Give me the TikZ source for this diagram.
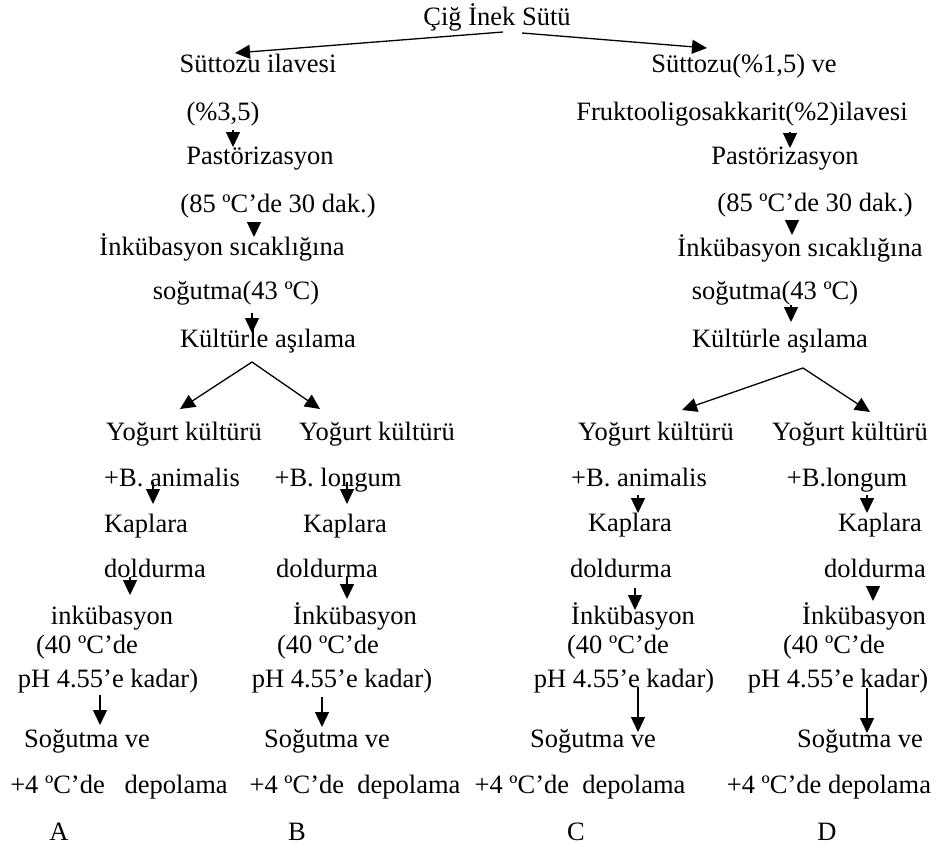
\documentclass[tikz,border=0pt]{standalone}
\usepackage{fontspec}
\setmainfont{Liberation Serif}
\usetikzlibrary{arrows.meta}
\tikzset{
  x=1pt, y=-1pt,
  lbl/.style={inner sep=0pt, anchor=base, font=\fontsize{26.5}{30}\selectfont},
  arr/.style={line width=1.3pt, -{Triangle[width=14pt,length=15pt]}}
}
\begin{document}
\begin{tikzpicture}
\useasboundingbox[fill=white] (0,0) rectangle (937,849);
% top
\node[lbl] (top) at (497,25) {Çiğ İnek Sütü};
% left branch
\node[lbl] (L1) at (258,72) {Süttozu ilavesi};
\node[lbl] (L2) at (223,120) {(\%3,5)};
\node[lbl] (L3) at (260,164) {Pastörizasyon};
\node[lbl] (L4) at (278,212) {(85 ºC’de 30 dak.)};
\node[lbl] (L5) at (222,255) {İnkübasyon sıcaklığına};
\node[lbl] (L6) at (236,299) {soğutma(43 ºC)};
\node[lbl] (L7) at (268,347) {Kültürle aşılama};
% A
\node[lbl] (A1) at (184,440) {Yoğurt kültürü};
\node[lbl] (A2) at (172,486) {+B. animalis};
\node[lbl] (A3) at (146,532) {Kaplara};
\node[lbl] (A4) at (155,577) {doldurma};
\node[lbl] (A5) at (112,624) {inkübasyon};
\node[lbl] (A6) at (87,653) {(40 ºC’de};
\node[lbl] (A7) at (108,687) {pH 4.55’e kadar)};
\node[lbl] (A8) at (87,747) {Soğutma ve};
\node[lbl] (A9) at (119,793) {+4 ºC’de \ \ depolama};
\node[lbl] (A10) at (59,840) {A};
% B
\node[lbl] (B1) at (377,440) {Yoğurt kültürü};
\node[lbl] (B2) at (338,486) {+B. longum};
\node[lbl] (B3) at (345,532) {Kaplara};
\node[lbl] (B4) at (327,577) {doldurma};
\node[lbl] (B5) at (355,624) {İnkübasyon};
\node[lbl] (B6) at (328,653) {(40 ºC’de};
\node[lbl] (B7) at (342,687) {pH 4.55’e kadar)};
\node[lbl] (B8) at (327,747) {Soğutma ve};
\node[lbl] (B9) at (355,793) {+4 ºC’de \ depolama};
\node[lbl] (B10) at (297,840) {B};
% right branch
\node[lbl] (R1) at (744,72) {Süttozu(\%1,5) ve};
\node[lbl] (R2) at (742,120) {Fruktooligosakkarit(\%2)ilavesi};
\node[lbl] (R3) at (785,164) {Pastörizasyon};
\node[lbl] (R4) at (815,211) {(85 ºC’de 30 dak.)};
\node[lbl] (R5) at (800,256) {İnkübasyon sıcaklığına};
\node[lbl] (R6) at (775,299) {soğutma(43 ºC)};
\node[lbl] (R7) at (780,347) {Kültürle aşılama};
% C
\node[lbl] (C1) at (656,440) {Yoğurt kültürü};
\node[lbl] (C2) at (639,486) {+B. animalis};
\node[lbl] (C3) at (630,531) {Kaplara};
\node[lbl] (C4) at (621,577) {doldurma};
\node[lbl] (C5) at (633,624) {İnkübasyon};
\node[lbl] (C6) at (618,653) {(40 ºC’de};
\node[lbl] (C7) at (624,687) {pH 4.55’e kadar)};
\node[lbl] (C8) at (593,747) {Soğutma ve};
\node[lbl] (C9) at (580,793) {+4 ºC’de \ depolama};
\node[lbl] (C10) at (576,840) {C};
% D
\node[lbl] (D1) at (850,440) {Yoğurt kültürü};
\node[lbl] (D2) at (847,486) {+B.longum};
\node[lbl] (D3) at (880,531) {Kaplara};
\node[lbl] (D4) at (875,577) {doldurma};
\node[lbl] (D5) at (864,624) {İnkübasyon};
\node[lbl] (D6) at (834,653) {(40 ºC’de};
\node[lbl] (D7) at (838,687) {pH 4.55’e kadar)};
\node[lbl] (D8) at (860,747) {Soğutma ve};
\node[lbl] (D9) at (829,793) {+4 ºC’de depolama};
\node[lbl] (D10) at (827,840) {D};
% connectors (shifts relative to each node's base point)
\draw[arr] ([shift={(6,7)}]top.base) -- ([shift={(-23,-19)}]L1.base);
\draw[arr] ([shift={(25,8)}]top.base) -- ([shift={(-37,-24)}]R1.base);
\draw[arr] ([shift={(10,10)}]L2.base) -- ([shift={(-27,-17)}]L3.base);
\draw[arr] ([shift={(-24,10)}]L4.base) -- ([shift={(32,-18)}]L5.base);
\draw[arr] ([shift={(16,14)}]L6.base) -- ([shift={(-16,-14)}]L7.base);
\draw[arr] ([shift={(-16,15)}]L7.base) -- ([shift={(-4,-31)}]A1.base);
\draw[arr] ([shift={(-16,15)}]L7.base) -- ([shift={(-57,-31)}]B1.base);
\draw[arr] ([shift={(-19,-4)}]A2.base) -- ([shift={(7,-28)}]A3.base);
\draw[arr] ([shift={(-25,0)}]A4.base) -- ([shift={(18,-29)}]A5.base);
\draw[arr] ([shift={(-8,8)}]A7.base) -- ([shift={(13,-22)}]A8.base);
\draw[arr] ([shift={(9,-4)}]B2.base) -- ([shift={(2,-28)}]B3.base);
\draw[arr] ([shift={(20,0)}]B4.base) -- ([shift={(-8,-25)}]B5.base);
\draw[arr] ([shift={(-20,10)}]B7.base) -- ([shift={(-5,-20)}]B8.base);
\draw[arr] ([shift={(48,12)}]R2.base) -- ([shift={(5,-16)}]R3.base);
\draw[arr] ([shift={(-23,11)}]R4.base) -- ([shift={(-8,-21)}]R5.base);
\draw[arr] ([shift={(16,6)}]R6.base) -- ([shift={(11,-25)}]R7.base);
\draw[arr] ([shift={(23,21)}]R7.base) -- ([shift={(26,-30)}]C1.base);
\draw[arr] ([shift={(23,21)}]R7.base) -- ([shift={(20,-28)}]D1.base);
\draw[arr] ([shift={(-1,9)}]C2.base) -- ([shift={(8,-18)}]C3.base);
\draw[arr] ([shift={(14,11)}]C4.base) -- ([shift={(2,-14)}]C5.base);
\draw[arr] ([shift={(14,0)}]C7.base) -- ([shift={(45,-15)}]C8.base);
\draw[arr] ([shift={(20,9)}]D2.base) -- ([shift={(-13,-18)}]D3.base);
\draw[arr] ([shift={(-2,10)}]D4.base) -- ([shift={(9,-23)}]D5.base);
\draw[arr] ([shift={(29,1)}]D7.base) -- ([shift={(7,-14)}]D8.base);
\end{tikzpicture}
\end{document}
